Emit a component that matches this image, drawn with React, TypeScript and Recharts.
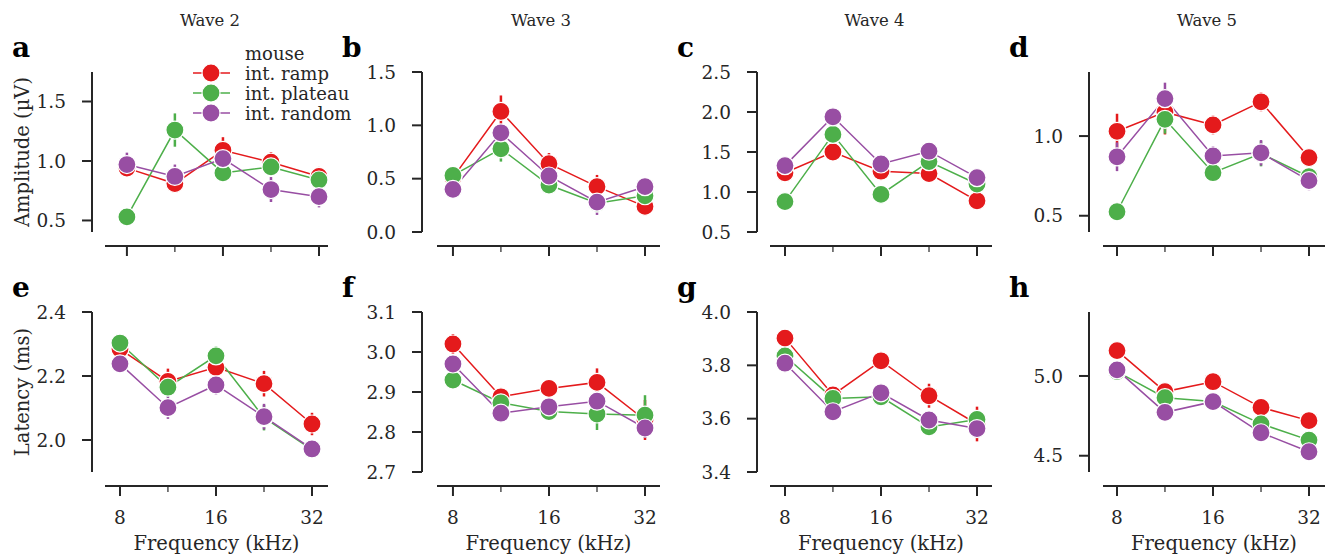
import React from 'react';
import { LineChart, Line, XAxis, YAxis, ErrorBar, Label, Legend } from 'recharts';

const FONT = '"DejaVu Serif", serif';
const INK = '#262626';
const C_RAMP = '#e41a1c';
const C_PLATEAU = '#4daf4a';
const C_RANDOM = '#984ea3';

// frequencies (kHz), half-octave steps
const FREQS = [8, 11.31, 16, 22.63, 32];
const FREQ_LABELS = ['8', '', '16', '', '32'];

// ---- Amplitude (µV) ----
const A2_RAMP = [0.94, 0.81, 1.09, 0.99, 0.87];
const A2_RAMP_ERR = [0.07, 0.05, 0.11, 0.085, 0.08];
const A2_PLATEAU = [0.53, 1.26, 0.9, 0.95, 0.84];
const A2_PLATEAU_ERR = [0.02, 0.14, 0.07, 0.05, 0.05];
const A2_RANDOM = [0.97, 0.87, 1.02, 0.76, 0.7];
const A2_RANDOM_ERR = [0.1, 0.1, 0.05, 0.105, 0.09];

const A3_RAMP = [0.51, 1.13, 0.64, 0.425, 0.24];
const A3_RAMP_ERR = [0.05, 0.15, 0.1, 0.11, 0.05];
const A3_PLATEAU = [0.53, 0.78, 0.44, 0.27, 0.34];
const A3_PLATEAU_ERR = [0.05, 0.12, 0.05, 0.08, 0.05];
const A3_RANDOM = [0.4, 0.93, 0.525, 0.28, 0.425];
const A3_RANDOM_ERR = [0.04, 0.08, 0.06, 0.12, 0.05];

const A4_RAMP = [1.24, 1.5, 1.26, 1.23, 0.89];
const A4_RAMP_ERR = [0.06, 0.06, 0.06, 0.06, 0.05];
const A4_PLATEAU = [0.88, 1.72, 0.97, 1.38, 1.1];
const A4_PLATEAU_ERR = [0.05, 0.07, 0.06, 0.06, 0.05];
const A4_RANDOM = [1.33, 1.94, 1.35, 1.51, 1.18];
const A4_RANDOM_ERR = [0.06, 0.07, 0.06, 0.06, 0.05];

const A5_RAMP = [1.03, 1.15, 1.07, 1.215, 0.865];
const A5_RAMP_ERR = [0.11, 0.14, 0.06, 0.06, 0.04];
const A5_PLATEAU = [0.525, 1.105, 0.77, 0.89, 0.745];
const A5_PLATEAU_ERR = [0.03, 0.09, 0.04, 0.08, 0.04];
const A5_RANDOM = [0.87, 1.235, 0.875, 0.895, 0.72];
const A5_RANDOM_ERR = [0.09, 0.1, 0.06, 0.08, 0.06];

// ---- Latency (ms) ----
const L2_RAMP = [2.284, 2.183, 2.227, 2.176, 2.05];
const L2_RAMP_ERR = [0.02, 0.04, 0.03, 0.04, 0.035];
const L2_PLATEAU = [2.303, 2.165, 2.263, 2.07, 1.97];
const L2_PLATEAU_ERR = [0.02, 0.03, 0.03, 0.04, 0.02];
const L2_RANDOM = [2.238, 2.101, 2.172, 2.073, 1.972];
const L2_RANDOM_ERR = [0.02, 0.035, 0.03, 0.04, 0.02];

const L3_RAMP = [3.02, 2.888, 2.909, 2.924, 2.83];
const L3_RAMP_ERR = [0.025, 0.02, 0.02, 0.035, 0.05];
const L3_PLATEAU = [2.93, 2.873, 2.851, 2.845, 2.842];
const L3_PLATEAU_ERR = [0.02, 0.02, 0.02, 0.04, 0.05];
const L3_RANDOM = [2.97, 2.847, 2.863, 2.877, 2.81];
const L3_RANDOM_ERR = [0.02, 0.02, 0.02, 0.03, 0.025];

const L4_RAMP = [3.902, 3.689, 3.817, 3.686, 3.58];
const L4_RAMP_ERR = [0.03, 0.03, 0.03, 0.045, 0.065];
const L4_PLATEAU = [3.835, 3.676, 3.682, 3.569, 3.597];
const L4_PLATEAU_ERR = [0.03, 0.03, 0.03, 0.03, 0.03];
const L4_RANDOM = [3.808, 3.626, 3.697, 3.595, 3.563];
const L4_RANDOM_ERR = [0.03, 0.03, 0.03, 0.03, 0.03];

const L5_RAMP = [5.159, 4.902, 4.964, 4.803, 4.72];
const L5_RAMP_ERR = [0.04, 0.04, 0.04, 0.04, 0.04];
const L5_PLATEAU = [5.027, 4.864, 4.84, 4.7, 4.598];
const L5_PLATEAU_ERR = [0.04, 0.04, 0.04, 0.04, 0.04];
const L5_RANDOM = [5.038, 4.772, 4.839, 4.644, 4.525];
const L5_RANDOM_ERR = [0.04, 0.04, 0.04, 0.04, 0.04];

const SERIES_NAMES = ['int. ramp', 'int. plateau', 'int. random'];
const LEGEND_TITLE = 'mouse';
const TITLES = ['Wave 2', 'Wave 3', 'Wave 4', 'Wave 5'];
const LETTERS = ['a', 'b', 'c', 'd', 'e', 'f', 'g', 'h'];
const Y_LABELS = ['Amplitude (µV)', 'Latency (ms)'];
const X_LABEL = 'Frequency (kHz)';

type PanelCfg = {
  row: number;
  col: number;
  ySpineX: number;
  xStart: number;
  xEnd: number;
  xDomain: [number, number];
  yDomain: [number, number];
  yTicks: number[];
  ramp: number[]; rampErr: number[];
  plateau: number[]; plateauErr: number[];
  random: number[]; randomErr: number[];
};

const COL_GEOM = [
  { ySpineX: 92, xStart: 105, xEnd: 328 },
  { ySpineX: 422, xStart: 437, xEnd: 660 },
  { ySpineX: 757, xStart: 770, xEnd: 992 },
  { ySpineX: 1089, xStart: 1103, xEnd: 1325 },
];

const PANELS: PanelCfg[] = [
  { row: 0, col: 0, ...COL_GEOM[0], xDomain: [6.83, 34.15], yDomain: [0.403, 1.748], yTicks: [0.5, 1.0, 1.5],
    ramp: A2_RAMP, rampErr: A2_RAMP_ERR, plateau: A2_PLATEAU, plateauErr: A2_PLATEAU_ERR, random: A2_RANDOM, randomErr: A2_RANDOM_ERR },
  { row: 0, col: 1, ...COL_GEOM[1], xDomain: [7.13, 35.66], yDomain: [0, 1.5], yTicks: [0, 0.5, 1.0, 1.5],
    ramp: A3_RAMP, rampErr: A3_RAMP_ERR, plateau: A3_PLATEAU, plateauErr: A3_PLATEAU_ERR, random: A3_RANDOM, randomErr: A3_RANDOM_ERR },
  { row: 0, col: 2, ...COL_GEOM[2], xDomain: [7.18, 35.66], yDomain: [0.5, 2.5], yTicks: [0.5, 1.0, 1.5, 2.0, 2.5],
    ramp: A4_RAMP, rampErr: A4_RAMP_ERR, plateau: A4_PLATEAU, plateauErr: A4_PLATEAU_ERR, random: A4_RANDOM, randomErr: A4_RANDOM_ERR },
  { row: 0, col: 3, ...COL_GEOM[3], xDomain: [7.23, 35.92], yDomain: [0.398, 1.402], yTicks: [0.5, 1.0],
    ramp: A5_RAMP, rampErr: A5_RAMP_ERR, plateau: A5_PLATEAU, plateauErr: A5_PLATEAU_ERR, random: A5_RANDOM, randomErr: A5_RANDOM_ERR },
  { row: 1, col: 0, ...COL_GEOM[0], xDomain: [7.18, 35.92], yDomain: [1.9, 2.4], yTicks: [2.0, 2.2, 2.4],
    ramp: L2_RAMP, rampErr: L2_RAMP_ERR, plateau: L2_PLATEAU, plateauErr: L2_PLATEAU_ERR, random: L2_RANDOM, randomErr: L2_RANDOM_ERR },
  { row: 1, col: 1, ...COL_GEOM[1], xDomain: [7.13, 35.66], yDomain: [2.7, 3.1], yTicks: [2.7, 2.8, 2.9, 3.0, 3.1],
    ramp: L3_RAMP, rampErr: L3_RAMP_ERR, plateau: L3_PLATEAU, plateauErr: L3_PLATEAU_ERR, random: L3_RANDOM, randomErr: L3_RANDOM_ERR },
  { row: 1, col: 2, ...COL_GEOM[2], xDomain: [7.18, 35.66], yDomain: [3.4, 4.0], yTicks: [3.4, 3.6, 3.8, 4.0],
    ramp: L4_RAMP, rampErr: L4_RAMP_ERR, plateau: L4_PLATEAU, plateauErr: L4_PLATEAU_ERR, random: L4_RANDOM, randomErr: L4_RANDOM_ERR },
  { row: 1, col: 3, ...COL_GEOM[3], xDomain: [7.23, 35.92], yDomain: [4.398, 5.401], yTicks: [4.5, 5.0],
    ramp: L5_RAMP, rampErr: L5_RAMP_ERR, plateau: L5_PLATEAU, plateauErr: L5_PLATEAU_ERR, random: L5_RANDOM, randomErr: L5_RANDOM_ERR },
];

const W = 1325;
const H = 558;
const Y_W = 80;
const X_H = 64;
const SPINE_OFFSET = 14;
const PLOT_H = 160;
const ROW_TOP = [72, 312];
const TICK_FS = 18.5;
const LABEL_FS = 19.5;
const LEGEND_FS = 18;
const TITLE_FS = 16.5;

const XTick = (props: any) => {
  const { x, y, payload, showLabel } = props;
  const idx = FREQS.indexOf(payload.value);
  const label = idx >= 0 ? FREQ_LABELS[idx] : '';
  const major = label !== '';
  return (
    <g>
      <line x1={x} y1={y} x2={x} y2={y + (major ? 10 : 6)} stroke={INK} strokeWidth={major ? 2 : 1.2} />
      {showLabel && major && (
        <text x={x} y={y + 31} textAnchor="middle" dominantBaseline="central" fill={INK}
          style={{ fontFamily: FONT, fontSize: TICK_FS }}>{label}</text>
      )}
    </g>
  );
};

const LegendBox = () => {
  const rows = [
    { name: SERIES_NAMES[0], color: C_RAMP },
    { name: SERIES_NAMES[1], color: C_PLATEAU },
    { name: SERIES_NAMES[2], color: C_RANDOM },
  ];
  return (
    <svg width={175} height={90} style={{ overflow: 'visible' }}>
      <text x={60} y={13} dominantBaseline="central" fill={INK} style={{ fontFamily: FONT, fontSize: LEGEND_FS }}>{LEGEND_TITLE}</text>
      {rows.map((r, i) => (
        <g key={r.name}>
          <line x1={8} x2={45} y1={33 + i * 20} y2={33 + i * 20} stroke={r.color} strokeWidth={1.5} />
          <circle cx={26} cy={33 + i * 20} r={9} fill={r.color} stroke="#fff" strokeWidth={1.2} />
          <text x={60} y={33 + i * 20} dominantBaseline="central" fill={INK} style={{ fontFamily: FONT, fontSize: LEGEND_FS }}>{r.name}</text>
        </g>
      ))}
    </svg>
  );
};

function PanelChart({ p, idx }: { p: PanelCfg; idx: number }) {
  const top = ROW_TOP[p.row];
  const xSpineY = top + PLOT_H + SPINE_OFFSET;
  const gap = p.xStart - p.ySpineX;
  const data = FREQS.map((f, i) => ({
    f,
    ramp: p.ramp[i], rampErr: p.rampErr[i],
    plateau: p.plateau[i], plateauErr: p.plateauErr[i],
    random: p.random[i], randomErr: p.randomErr[i],
  }));
  const showX = p.row === 1;
  const yLabel = p.col === 0 ? Y_LABELS[p.row] : null;
  const line = (key: string, color: string) => (
    <Line dataKey={key} stroke={color} strokeWidth={1.5} isAnimationActive={false} activeDot={false}
      dot={{ r: 9, fill: color, stroke: '#fff', strokeWidth: 1.2, fillOpacity: 1 }}>
      <ErrorBar dataKey={key + 'Err'} width={0} stroke={color} strokeWidth={2.5} direction="y" />
    </Line>
  );
  return (
    <div style={{ position: 'absolute', left: 0, top: 0 }}>
      <LineChart width={W} height={H} data={data}
        margin={{ top, left: p.ySpineX - Y_W, right: W - p.xEnd, bottom: H - xSpineY - X_H }}>
        <XAxis dataKey="f" type="number" scale="log" domain={p.xDomain} allowDataOverflow ticks={FREQS}
          interval={0} height={X_H} padding={{ left: gap, right: 0 }}
          axisLine={{ stroke: INK, strokeWidth: 2, strokeDasharray: `0 ${gap} 4000` }}
          tickLine={false} tickSize={0} tickMargin={0} tick={<XTick showLabel={showX} />}>
          {showX && (
            <Label content={(lp: any) => {
              const vb = lp.viewBox || { x: p.ySpineX, y: xSpineY, width: p.xEnd - p.ySpineX };
              const cx = vb.x + gap + (vb.width - gap) / 2;
              const cy = vb.y + 57;
              return <text x={cx} y={cy} textAnchor="middle" dominantBaseline="central" fill={INK}
                style={{ fontFamily: FONT, fontSize: LABEL_FS }}>{X_LABEL}</text>;
            }} />
          )}
        </XAxis>
        <YAxis type="number" domain={p.yDomain} allowDataOverflow ticks={p.yTicks} interval={0} width={Y_W}
          padding={{ top: 0, bottom: SPINE_OFFSET }}
          axisLine={{ stroke: INK, strokeWidth: 2, strokeDasharray: `${PLOT_H} 4000` }}
          tickLine={{ stroke: INK, strokeWidth: 2 }} tickSize={10} tickMargin={16}
          tick={{ fill: INK, fontSize: TICK_FS, fontFamily: FONT }}
          tickFormatter={(v: number) => v.toFixed(1)}>
          {yLabel && (
            <Label content={() => {
              const cx = 22;
              const cy = top + PLOT_H / 2;
              return <text x={cx} y={cy} transform={`rotate(-90 ${cx} ${cy})`} textAnchor="middle"
                dominantBaseline="central" fill={INK} style={{ fontFamily: FONT, fontSize: LABEL_FS }}>{yLabel}</text>;
            }} />
          )}
        </YAxis>
        {line('ramp', C_RAMP)}
        {line('plateau', C_PLATEAU)}
        {line('random', C_RANDOM)}
        {idx === 0 && (
          <Legend content={<LegendBox />} layout="horizontal" verticalAlign="middle" align="center"
            wrapperStyle={{ left: 185, top: 40, width: 175, height: 90 }} />
        )}
      </LineChart>
    </div>
  );
}

export default function App() {
  return (
    <div style={{ position: 'absolute', left: 0, top: 0, width: W, height: H, background: '#fff', overflow: 'hidden' }}>
      {PANELS.map((p, i) => <PanelChart key={i} p={p} idx={i} />)}
      <svg width={W} height={H} style={{ position: 'absolute', left: 0, top: 0, pointerEvents: 'none' }}>
        {PANELS.map((p, i) => (
          <g key={i}>
            {p.row === 0 && (
              <text x={(p.ySpineX + p.xEnd) / 2} y={20} textAnchor="middle" dominantBaseline="central" fill={INK}
                style={{ fontFamily: FONT, fontSize: TITLE_FS }}>{TITLES[p.col]}</text>
            )}
            <text x={p.ySpineX - 80} y={ROW_TOP[p.row] - 15} fill="#000"
              style={{ fontFamily: FONT, fontSize: 28, fontWeight: 'bold' }}>{LETTERS[i]}</text>
          </g>
        ))}
      </svg>
    </div>
  );
}
